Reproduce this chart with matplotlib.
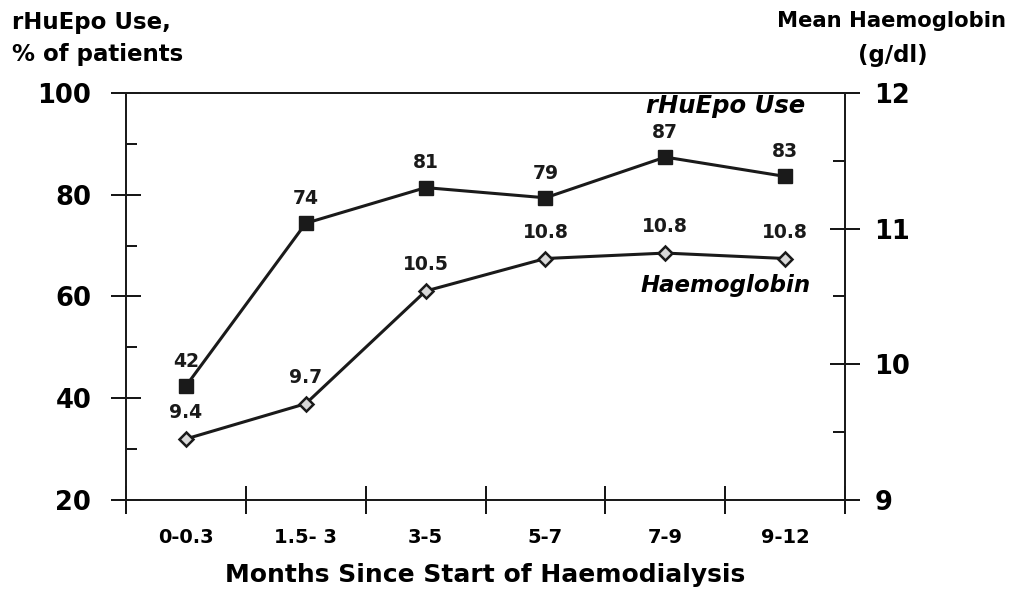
import matplotlib
matplotlib.use("Agg")
import matplotlib.pyplot as plt
from matplotlib.ticker import MultipleLocator, FixedLocator, NullFormatter

plt.rcParams['font.family'] = ['DejaVu Sans']
plt.rcParams['font.weight'] = 'bold'

# data
periods = ['0-0.3', '1.5- 3', '3-5', '5-7', '7-9', '9-12']
epo_use = [42.4, 74.4, 81.4, 79.4, 87.4, 83.6]
epo_labels = ['42', '74', '81', '79', '87', '83']
hb_mean = [9.45, 9.71, 10.54, 10.78, 10.82, 10.78]
hb_labels = ['9.4', '9.7', '10.5', '10.8', '10.8', '10.8']

x = list(range(len(periods)))
INK = '#1a1a1a'

fig = plt.figure(figsize=(10.09, 5.98), dpi=100)
ax = fig.add_axes([0.1249, 0.1639, 0.7126, 0.6806])
ax2 = ax.twinx()

for a in (ax, ax2):
    for s in a.spines.values():
        s.set_linewidth(1.3)
        s.set_color(INK)

# left axis: rHuEpo use
ax.plot(x, epo_use, color=INK, lw=2.2, marker='s', ms=9.5,
        mfc=INK, mec=INK, zorder=3)
for xi, v, t in zip(x, epo_use, epo_labels):
    ax.annotate(t, (xi, v), xytext=(0, 11), textcoords='offset points',
                ha='center', va='bottom', fontsize=13.5, fontweight='bold', color=INK)
ax.set_ylim(20, 100)
ax.set_xlim(-0.5, len(periods) - 0.5)
ax.yaxis.set_major_locator(MultipleLocator(20))
ax.yaxis.set_minor_locator(FixedLocator([30, 50, 70, 90]))
ax.tick_params(axis='y', which='major', direction='inout', length=22, width=1.3,
               labelsize=18.5, pad=14)
ax.tick_params(axis='y', which='minor', direction='in', length=8, width=1.3)

# category boundaries as crossing ticks, labels centred in each band
ax.xaxis.set_major_locator(FixedLocator([i - 0.5 for i in range(len(periods) + 1)]))
ax.xaxis.set_major_formatter(NullFormatter())
ax.xaxis.set_minor_locator(FixedLocator(x))
ax.set_xticklabels(periods, minor=True)
ax.tick_params(axis='x', which='major', direction='inout', length=20, width=1.3)
ax.tick_params(axis='x', which='minor', length=0, pad=20, labelsize=14)
ax.set_xlabel('Months Since Start of Haemodialysis', fontsize=18, fontweight='bold',
              labelpad=12)

# right axis: haemoglobin
ax2.plot(x, hb_mean, color=INK, lw=2.2, marker='D', ms=7,
         mfc='#d8d8d8', mec=INK, mew=1.8, zorder=3)
for xi, v, t in zip(x, hb_mean, hb_labels):
    ax2.annotate(t, (xi, v), xytext=(0, 12), textcoords='offset points',
                 ha='center', va='bottom', fontsize=13.5, fontweight='bold', color=INK)
ax2.set_ylim(9, 12)
ax2.yaxis.set_major_locator(MultipleLocator(1))
ax2.yaxis.set_minor_locator(FixedLocator([9.5, 10.5, 11.5]))
ax2.tick_params(axis='y', which='major', direction='inout', length=22, width=1.3,
                labelsize=18.5, pad=10)
ax2.tick_params(axis='y', which='minor', direction='in', length=9, width=1.3)

# axis titles
fig.text(0.012, 0.982, 'rHuEpo Use,\n% of patients', ha='left', va='top',
         fontsize=16.5, fontweight='bold', linespacing=1.5)
fig.text(0.997, 0.982, 'Mean Haemoglobin', ha='right', va='top',
         fontsize=15.2, fontweight='bold')
fig.text(0.885, 0.926, '(g/dl)', ha='center', va='top',
         fontsize=16.5, fontweight='bold')

# series names
fig.text(0.798, 0.822, 'rHuEpo Use', ha='right', va='center',
         fontsize=17.5, fontweight='bold', style='italic')
fig.text(0.803, 0.523, 'Haemoglobin', ha='right', va='center',
         fontsize=16.5, fontweight='bold', style='italic')

fig.savefig('out.png', dpi=100)
